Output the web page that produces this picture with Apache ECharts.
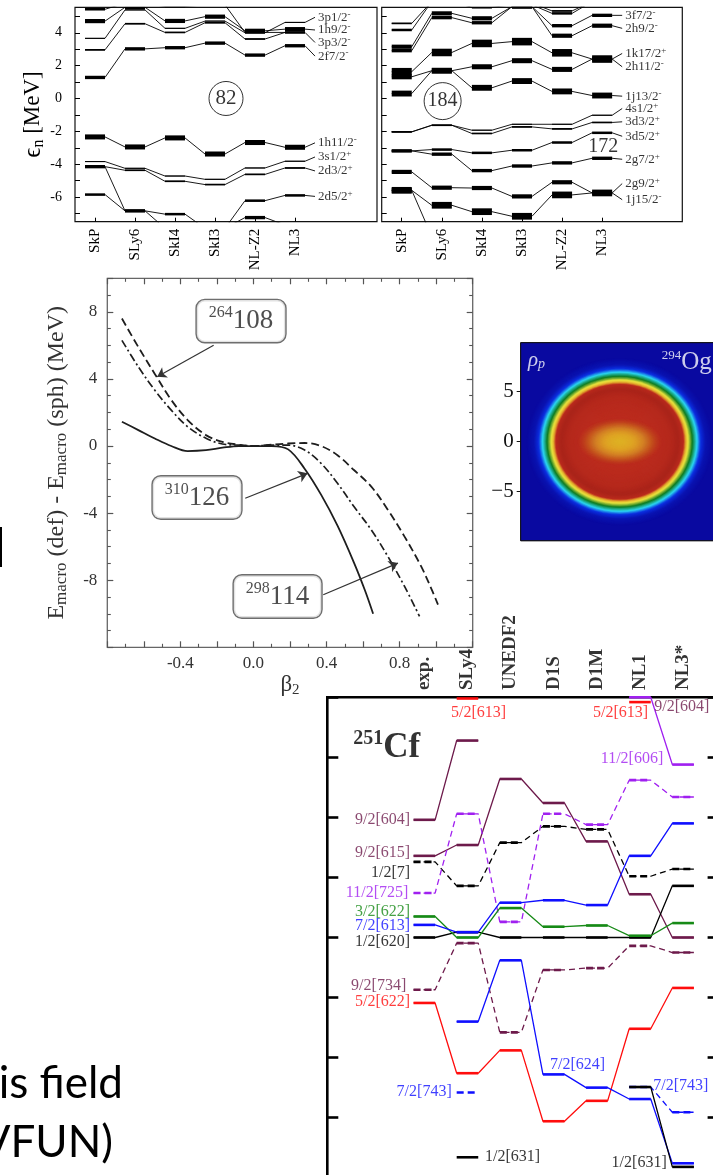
<!DOCTYPE html>
<html>
<head>
<meta charset="utf-8">
<script src="https://cdn.jsdelivr.net/npm/echarts@6/dist/echarts.min.js"></script>
<style>
  html, body { margin: 0; padding: 0; background: #fff; }
  #c { width: 713px; height: 1175px; }
</style>
</head>
<body>
<div id="c"></div>
<script>
// ---------------------------------------------------------------------------
// Neutron single-particle levels near N = 82 and N = 184 (MeV), per force
// ---------------------------------------------------------------------------
const forces = ['SkP', 'SLy6', 'SkI4', 'SkI3', 'NL-Z2', 'NL3'];

const n82_2f52  = [5.43, 5.80, 5.60, 5.70, 4.02, 4.02];
const n82_1h92  = [4.71, 5.55, 4.72, 4.98, 4.12, 4.22];
const n82_3p12  = [3.66, 5.39, 4.27, 4.71, 4.00, 4.63];
const n82_3p32  = [2.96, 4.55, 4.02, 4.61, 3.62, 4.02];
const n82_2f72  = [1.28, 3.02, 3.09, 3.37, 2.64, 3.21];
const n82_1h112 = [-2.34, -2.95, -2.40, -3.38, -2.68, -2.97];
const n82_3s12  = [-3.84, -4.25, -4.72, -4.92, -4.23, -3.82];
const n82_2d32  = [-4.15, -4.37, -5.04, -5.24, -4.62, -4.23];
const n82_2d52  = [-5.85, -6.84, -7.04, -7.90, -6.22, -5.90];
const n82_1g72  = [-4.15, -6.84, -7.90, -7.90, -7.25, -7.70];

const n184_3p32  = [4.57, 5.90, 5.70, 5.80, 5.33, 5.90];
const n184_3f52  = [4.17, 5.90, 5.55, 5.70, 5.18, 5.90];
const n184_2h92  = [3.15, 5.18, 4.88, 5.59, 3.82, 4.43];
const n184_3f72  = [2.91, 4.92, 4.61, 5.59, 4.43, 5.06];
const n184_1k172 = [1.63, 2.80, 3.35, 3.46, 2.78, 2.40];
const n184_2h112 = [1.32, 1.69, 1.93, 2.30, 1.77, 2.40];
const n184_1j132 = [0.30, 1.69, 0.65, 1.06, 0.43, 0.18];
const n184_4s12  = [-2.03, -1.63, -1.93, -1.57, -1.57, -1.02];
const n184_3d32  = [-2.03, -1.63, -2.13, -1.73, -1.85, -1.46];
const n184_3d52  = [-3.19, -3.11, -3.31, -3.15, -2.68, -2.09];
const n184_2g72  = [-3.19, -3.39, -4.39, -4.11, -3.92, -3.64];
const n184_2g92  = [-4.47, -5.43, -5.45, -5.96, -5.10, -5.75];
const n184_1j152 = [-5.59, -6.50, -6.89, -7.17, -5.87, -5.75];
const n184_1i112 = [-5.59, -8.40, -8.40, -8.40, -8.40, -8.40];

const n82Orbitals = [
  ['2f5/2', n82_2f52], ['1h9/2', n82_1h92], ['3p1/2', n82_3p12], ['3p3/2', n82_3p32],
  ['2f7/2', n82_2f72], ['1h11/2', n82_1h112], ['3s1/2', n82_3s12], ['2d3/2', n82_2d32],
  ['2d5/2', n82_2d52], ['1g7/2', n82_1g72]
];
const n184Orbitals = [
  ['3p3/2', n184_3p32], ['3f5/2', n184_3f52], ['2h9/2', n184_2h92], ['3f7/2', n184_3f72],
  ['1k17/2', n184_1k172], ['2h11/2', n184_2h112], ['1j13/2', n184_1j132], ['4s1/2', n184_4s12],
  ['3d3/2', n184_3d32], ['3d5/2', n184_3d52], ['2g7/2', n184_2g72], ['2g9/2', n184_2g92],
  ['1j15/2', n184_1j152], ['1i11/2', n184_1i112]
];

// Orbital names written at the right edge: name, parity, energy where the name sits
const n82Tags = [
  ['3p1/2', '-', 4.94], ['1h9/2', '-', 4.17], ['3p3/2', '-', 3.41], ['2f7/2', '-', 2.58],
  ['1h11/2', '-', -2.70], ['3s1/2', '+', -3.56], ['2d3/2', '+', -4.41], ['2d5/2', '+', -5.96]
];
const n184Tags = [
  ['3f7/2', '-', 5.06], ['2h9/2', '-', 4.27], ['1k17/2', '+', 2.74], ['2h11/2', '-', 1.93],
  ['1j13/2', '-', 0.14], ['4s1/2', '+', -0.61], ['3d3/2', '+', -1.42], ['3d5/2', '+', -2.30],
  ['2g7/2', '+', -3.70], ['2g9/2', '+', -5.18], ['1j15/2', '-', -6.16]
];

// ---------------------------------------------------------------------------
// Macroscopic deformation energy vs. beta2
// ---------------------------------------------------------------------------
const nuclei = [['264', '108'], ['310', '126'], ['298', '114']];
const beta108 = [-0.72, -0.63, -0.54, -0.45, -0.36, -0.26, -0.17, -0.08, 0.0, 0.10, 0.19, 0.28, 0.37, 0.46, 0.55, 0.645, 0.736, 0.827, 0.918, 0.98, 1.01];
const emac108 = [7.60, 5.90, 4.30, 2.75, 1.55, 0.65, 0.25, 0.08, 0.0, 0.08, 0.15, 0.18, 0.0, -0.55, -1.43, -2.42, -3.81, -5.40, -7.18, -8.67, -9.46];
const beta126 = [-0.72, -0.63, -0.54, -0.45, -0.36, -0.26, -0.17, -0.08, 0.0, 0.10, 0.19, 0.28, 0.37, 0.46, 0.55, 0.61, 0.655];
const emac126 = [1.45, 0.95, 0.45, 0.0, -0.30, -0.25, -0.10, 0.0, 0.0, 0.0, -0.20, -1.35, -2.90, -4.75, -6.95, -8.60, -10.0];
const beta114 = [-0.72, -0.63, -0.54, -0.45, -0.36, -0.26, -0.17, -0.08, 0.0, 0.10, 0.19, 0.28, 0.37, 0.46, 0.55, 0.645, 0.736, 0.827, 0.909];
const emac114 = [6.30, 4.72, 3.33, 2.14, 1.15, 0.46, 0.12, 0.05, 0.0, 0.05, 0.05, -0.24, -1.03, -2.22, -3.61, -5.00, -6.59, -8.37, -10.16];

// where each nucleus name box sits, and where its arrow starts / ends (beta2, MeV)
const nucleusBoxAt = [[-0.068, 7.45], [-0.309, -3.07], [0.132, -8.97]];
const nucleusArrow = [
  [[-0.218, 6.01], [-0.527, 4.13]],
  [[-0.045, -3.11], [0.296, -1.63]],
  [[0.382, -8.87], [0.791, -6.98]]
];

// ---------------------------------------------------------------------------
// Proton density of 294Og in the (x, z) plane (fm): radial profile along the
// long axis and its level on the colour scale (0 = outside, 1 = maximum)
// ---------------------------------------------------------------------------
const rhoRadius = [0, 2.0, 3.5, 5.0, 5.9, 6.4, 6.85, 7.3, 7.75, 8.15, 8.6, 9.3];
const rhoLevel  = [0.86, 0.86, 0.87, 0.89, 0.94, 0.88, 0.58, 0.43, 0.29, 0.14, 0.04, 0.0];
const rhoAspect = 0.9;
const bubbleRadius = [0, 1.2, 2.4, 3.3, 4.2];
const bubbleLevel  = [0.66, 0.67, 0.70, 0.76, 0.84];
const bubbleAspect = 0.56;
const rhoPalette = ['#0909a0', '#0b2ee0', '#2cd8f2', '#0d7c22', '#ece43e', '#e3aa2c', '#bd2c1e', '#9c1d16'];

// ---------------------------------------------------------------------------
// 251Cf one-quasiparticle energies (MeV), per model; null = not shown
// ---------------------------------------------------------------------------
const cfModels = ['exp.', 'SLy4', 'UNEDF2', 'D1S', 'D1M', 'NL1', 'NL3*'];
const cf_9_2_604  = [0.98, 1.64, null, null, null, null, null];
const cf_9_2_615  = [0.68, 0.77, 1.32, 1.12, 0.80, 0.36, 0.00];
const cf_1_2_761  = [0.63, 0.43, 0.79, 0.925, 0.90, 0.51, 0.57];
const cf_11_2_725 = [0.37, 1.03, 0.13, 1.03, 0.94, 1.31, 1.17];
const cf_11_2_606 = [null, null, null, null, null, 2.00, 1.44];
const cf_5_2_613  = [null, 1.99, null, null, null, 1.96, null];
const cf_1_2_620  = [0.00, 0.044, 0.00, 0.00, 0.00, 0.00, 0.43];
const cf_3_2_622  = [0.175, 0.00, 0.245, 0.09, 0.10, 0.015, 0.12];
const cf_7_2_613  = [0.105, 0.044, 0.29, 0.31, 0.27, 0.68, 0.95];
const cf_9_2_734  = [-0.435, -0.047, -0.79, -0.27, -0.255, -0.07, -0.125];
const cf_5_2_622  = [-0.545, -1.13, -0.94, -1.53, -1.36, -0.76, -0.42];
const cf_7_2_624  = [null, -0.70, -0.19, -1.14, -1.25, -1.345, -1.88];
const cf_7_2_743  = [null, -1.29, null, null, null, -1.245, -1.455];
const cf_1_2_631  = [null, -1.83, null, null, null, -1.245, -1.91];

const cfInk = { maroon: '#6d1a4b', purple: '#a020f0', green: '#168a16', blue: '#0f0fff', red: '#ff0d0d', black: '#000000' };
// name, energies, ink, dashed
const cfOrbitals = [
  ['9/2[604]', cf_9_2_604, 'maroon', false],
  ['9/2[615]', cf_9_2_615, 'maroon', false],
  ['1/2[761]', cf_1_2_761, 'black', true],
  ['11/2[725]', cf_11_2_725, 'purple', true],
  ['11/2[606]', cf_11_2_606, 'purple', false],
  ['5/2[613]', cf_5_2_613, 'red', false],
  ['9/2[734]', cf_9_2_734, 'maroon', true],
  ['1/2[620]', cf_1_2_620, 'black', false],
  ['3/2[622]', cf_3_2_622, 'green', false],
  ['7/2[613]', cf_7_2_613, 'blue', false],
  ['5/2[622]', cf_5_2_622, 'red', false],
  ['7/2[624]', cf_7_2_624, 'blue', false],
  ['7/2[743]', cf_7_2_743, 'blue', true],
  ['1/2[631]', cf_1_2_631, 'black', false]
];
// text, column position, energy, ink, which side of the anchor the text runs
const cfTags = [
  ['9/2[604]', -0.33, 0.98, 'maroon', 'end'],
  ['9/2[615]', -0.33, 0.705, 'maroon', 'end'],
  ['1/2[7]', -0.33, 0.535, 'black', 'end'],
  ['11/2[725]', -0.37, 0.37, 'purple', 'end'],
  ['3/2[622]', -0.33, 0.217, 'green', 'end'],
  ['7/2[613]', -0.33, 0.098, 'blue', 'end'],
  ['1/2[620]', -0.33, -0.033, 'black', 'end'],
  ['9/2[734]', -0.42, -0.40, 'maroon', 'end'],
  ['5/2[622]', -0.33, -0.533, 'red', 'end'],
  ['7/2[743]', 0.635, -1.288, 'blue', 'end'],
  ['5/2[613]', 1.257, 1.875, 'red', 'mid'],
  ['5/2[613]', 5.19, 1.875, 'red', 'end'],
  ['9/2[604]', 5.33, 1.92, 'maroon', 'start'],
  ['11/2[606]', 5.54, 1.489, 'purple', 'end'],
  ['7/2[624]', 2.914, -1.061, 'blue', 'start'],
  ['7/2[743]', 5.31, -1.233, 'blue', 'start'],
  ['1/2[631]', 1.407, -1.83, 'black', 'start'],
  ['1/2[631]', 5.62, -1.88, 'black', 'end']
];

// ---------------------------------------------------------------------------
const SERIF = '"Liberation Serif", "DejaVu Serif", serif';
const HALF = 0.25;      // half width of a level, in column units
const TAG_X = 5.5;      // where the connector to an orbital name ends
const CF_HEAD_E = 2.06; // column headings start just above the top edge of the 251Cf frame

// axis indices of the five panels
const AX_N82 = 0, AX_N184 = 1, AX_MAC = 2, AX_RHO = 4, AX_CF = 5;

function degeneracy(name) {
  const m = name.match(/^\d+[a-z](\d+)\/2/);
  return m ? Number(m[1]) + 1 : 2;
}

function renderBar(params, api) {
  const i = api.value(0), e = api.value(1), deg = api.value(2);
  const a = api.coord([i - HALF, e]);
  const b = api.coord([i + HALF, e]);
  const h = Math.max(1, 0.42 * deg);
  const cs = params.coordSys;
  const shape = echarts.graphic.clipRectByRect(
    { x: a[0], y: a[1] - h / 2, width: b[0] - a[0], height: h },
    { x: cs.x, y: cs.y, width: cs.width, height: cs.height }
  );
  return shape ? { type: 'rect', shape: shape, style: { fill: '#000' } } : null;
}

function tagRich(size, color) {
  return {
    t: { fontFamily: SERIF, fontSize: size, lineHeight: size + 2, color: color },
    s: { fontFamily: SERIF, fontSize: Math.round(size * 0.7), lineHeight: Math.round(size * 0.6), verticalAlign: 'top', color: color }
  };
}

function levelScheme(orbitals, tags, ax) {
  const out = [];
  const bars = [];
  orbitals.forEach(([name, energies]) => {
    const deg = degeneracy(name);
    const path = [];
    energies.forEach((e, i) => {
      path.push([i - HALF, e], [i + HALF, e]);
      bars.push([i, e, deg]);
    });
    const tag = tags.find(t => t[0] === name);
    if (tag) path.push([TAG_X, tag[2]]);
    out.push({
      type: 'line', name: name, xAxisIndex: ax, yAxisIndex: ax, data: path, symbol: 'none',
      silent: true, clip: true, lineStyle: { color: '#000', width: 0.9 }, z: 2
    });
  });
  out.push({ type: 'custom', xAxisIndex: ax, yAxisIndex: ax, data: bars, renderItem: renderBar, silent: true, z: 3 });
  out.push({
    type: 'scatter', xAxisIndex: ax, yAxisIndex: ax, symbolSize: 0, silent: true, z: 4,
    data: tags.map(t => ({ value: [TAG_X, t[2]], tag: t[0], parity: t[1] })),
    label: {
      show: true, position: 'right', distance: 3,
      formatter: p => `{t|${p.data.tag}}{s|${p.data.parity}}`,
      rich: tagRich(13, '#000')
    }
  });
  return out;
}

// colour of a density level on the jet-like scale
function densityColor(level) {
  return echarts.color.lerp(Math.max(0, Math.min(1, level)), rhoPalette);
}
// level at radius r along a piecewise profile
function profileAt(radii, levels, r) {
  if (r <= radii[0]) return levels[0];
  for (let k = 1; k < radii.length; k++) {
    if (r <= radii[k]) {
      const f = (r - radii[k - 1]) / (radii[k] - radii[k - 1]);
      return levels[k - 1] + f * (levels[k] - levels[k - 1]);
    }
  }
  return levels[levels.length - 1];
}

function renderDensity(params, api) {
  const cs = params.coordSys;
  const c = api.coord([0, 0]);
  const unit = Math.abs(api.coord([1, 0])[0] - c[0]);
  const children = [
    { type: 'rect', shape: { x: cs.x, y: cs.y, width: cs.width, height: cs.height }, style: { fill: densityColor(0) } }
  ];
  const step = 0.08;
  const R = rhoRadius[rhoRadius.length - 1];
  for (let r = R; r > 0; r -= step) {
    children.push({
      type: 'ellipse',
      shape: { cx: c[0], cy: c[1], rx: r * unit, ry: r * unit * rhoAspect },
      style: { fill: densityColor(profileAt(rhoRadius, rhoLevel, r)) }
    });
  }
  const Rb = bubbleRadius[bubbleRadius.length - 1];
  for (let r = Rb; r > 0; r -= step) {
    children.push({
      type: 'ellipse',
      shape: { cx: c[0], cy: c[1], rx: r * unit, ry: r * unit * bubbleAspect },
      style: { fill: densityColor(profileAt(bubbleRadius, bubbleLevel, r)), opacity: 0.085 }
    });
  }
  children.push({ type: 'rect', shape: { x: cs.x, y: cs.y, width: cs.width, height: cs.height }, style: { fill: null, stroke: '#111', lineWidth: 1 } });
  return { type: 'group', children: children };
}

// ---------------------------------------------------------------------------
const series = [];

// N = 82 and N = 184 level schemes
series.push(...levelScheme(n82Orbitals, n82Tags, AX_N82));
series.push(...levelScheme(n184Orbitals, n184Tags, AX_N184));

series.push({
  type: 'scatter', xAxisIndex: AX_N82, yAxisIndex: AX_N82, silent: true, z: 5,
  data: [[3.275, 0]], symbol: 'circle', symbolSize: 34,
  itemStyle: { color: 'rgba(255,255,255,0)', borderColor: '#000', borderWidth: 1 },
  label: { show: true, position: 'inside', formatter: '82', fontFamily: SERIF, fontSize: 21, color: '#000' }
});
series.push({
  type: 'scatter', xAxisIndex: AX_N184, yAxisIndex: AX_N184, silent: true, z: 5,
  data: [[1.02, -0.16]], symbol: 'circle', symbolSize: 37,
  itemStyle: { color: 'rgba(255,255,255,0)', borderColor: '#000', borderWidth: 1 },
  label: { show: true, position: 'inside', formatter: '184', fontFamily: SERIF, fontSize: 20, color: '#000' }
});
series.push({
  type: 'scatter', xAxisIndex: AX_N184, yAxisIndex: AX_N184, silent: true, z: 5,
  data: [[5.03, -2.91]], symbolSize: 0,
  label: { show: true, position: 'inside', formatter: '172', fontFamily: SERIF, fontSize: 20, color: '#000' }
});

// Macroscopic energy curves
const zip = (xs, ys) => xs.map((x, k) => [x, ys[k]]);
const curveInk = '#1e1e1e';
series.push({
  type: 'line', name: '264108', xAxisIndex: AX_MAC, yAxisIndex: AX_MAC, data: zip(beta108, emac108),
  symbol: 'none', smooth: 0.35, silent: true,
  lineStyle: { color: curveInk, width: 1.8, type: [8, 4] }
});
series.push({
  type: 'line', name: '310126', xAxisIndex: AX_MAC, yAxisIndex: AX_MAC, data: zip(beta126, emac126),
  symbol: 'none', smooth: 0.35, silent: true,
  lineStyle: { color: curveInk, width: 1.8 }
});
series.push({
  type: 'line', name: '298114', xAxisIndex: AX_MAC, yAxisIndex: AX_MAC, data: zip(beta114, emac114),
  symbol: 'none', smooth: 0.35, silent: true,
  lineStyle: { color: curveInk, width: 1.7, type: [8, 3, 2, 3] }
});
series.push({
  type: 'scatter', xAxisIndex: AX_MAC, yAxisIndex: AX_MAC, symbolSize: 0, silent: true, z: 6,
  data: nuclei.map((n, k) => ({ value: nucleusBoxAt[k], mass: n[0], charge: n[1] })),
  label: {
    show: true, position: 'inside',
    backgroundColor: '#fff', borderColor: '#4a4a4a', borderWidth: 1.4, borderRadius: 8,
    padding: [5, 12, 5, 12],
    formatter: p => `{s|${p.data.mass}}{m|${p.data.charge}}`,
    rich: {
      s: { fontFamily: SERIF, fontSize: 16, lineHeight: 14, verticalAlign: 'top', color: '#222' },
      m: { fontFamily: SERIF, fontSize: 27, lineHeight: 32, color: '#222' }
    }
  },
  markLine: {
    silent: true, animation: false, symbol: ['none', 'arrow'], symbolSize: 9,
    label: { show: false },
    lineStyle: { color: '#333', width: 1.2, type: 'solid' },
    data: nucleusArrow.map(a => [{ coord: a[0] }, { coord: a[1] }])
  }
});

// Proton density map
series.push({
  type: 'custom', xAxisIndex: AX_RHO, yAxisIndex: AX_RHO, data: [[0, 0]], renderItem: renderDensity, silent: true, z: 1
});
series.push({
  type: 'scatter', xAxisIndex: AX_RHO, yAxisIndex: AX_RHO, symbolSize: 0, silent: true, z: 5,
  data: [
    { value: [-9.17, 8.17], label: { formatter: '{r|ρ}{p|p}' } },
    { value: [4.2, 7.97], label: { formatter: '{s|294}{m|Og}' } }
  ],
  label: {
    show: true, position: 'right', distance: 0,
    rich: {
      r: { fontFamily: SERIF, fontStyle: 'italic', fontSize: 21, lineHeight: 22, color: '#fff' },
      p: { fontFamily: SERIF, fontStyle: 'italic', fontSize: 14, lineHeight: 12, verticalAlign: 'bottom', color: '#fff' },
      s: { fontFamily: SERIF, fontSize: 13, lineHeight: 12, verticalAlign: 'top', color: '#fff' },
      m: { fontFamily: SERIF, fontSize: 25, lineHeight: 26, color: '#fff' }
    }
  }
});

// 251Cf levels
const cfBars = [];
cfOrbitals.forEach(([name, energies, ink, dashed], k) => {
  let run = [];
  const flush = () => {
    if (run.length > 1) {
      const path = [];
      run.forEach(([i, e]) => path.push([i - HALF, e], [i + HALF, e]));
      series.push({
        type: 'line', name: name, xAxisIndex: AX_CF, yAxisIndex: AX_CF, data: path, symbol: 'none',
        silent: true, z: 2,
        lineStyle: { color: cfInk[ink], width: 1.3, type: dashed ? [6, 4] : 'solid' }
      });
    }
    run = [];
  };
  energies.forEach((e, i) => {
    if (e === null) { flush(); return; }
    run.push([i, e]);
    cfBars.push([i, e, k]);
  });
  flush();
});
series.push({
  type: 'custom', xAxisIndex: AX_CF, yAxisIndex: AX_CF, data: cfBars, silent: true, z: 3,
  renderItem: (params, api) => {
    const i = api.value(0), e = api.value(1), k = api.value(2);
    const orb = cfOrbitals[k];
    const a = api.coord([i - HALF, e]);
    const b = api.coord([i + HALF, e]);
    return {
      type: 'line', shape: { x1: a[0], y1: a[1], x2: b[0], y2: b[1] },
      style: { stroke: cfInk[orb[2]], lineWidth: 2.6, lineDash: orb[3] ? [7, 4] : null }
    };
  }
});
const sideToPos = { end: 'left', start: 'right', mid: 'inside' };
series.push({
  type: 'scatter', xAxisIndex: AX_CF, yAxisIndex: AX_CF, symbolSize: 0, silent: true, z: 5,
  data: cfTags.map(t => ({
    value: [t[1], t[2]],
    label: { show: true, formatter: t[0], color: cfInk[t[3]], position: sideToPos[t[4]], distance: 0 }
  })),
  label: { show: true, fontFamily: SERIF, fontSize: 16 }
});
series.push({
  type: 'scatter', xAxisIndex: AX_CF, yAxisIndex: AX_CF, symbolSize: 0, silent: true, z: 5,
  data: [[-1.65, 1.58]],
  label: {
    show: true, position: 'right', distance: 0, formatter: '{s|251}{m|Cf}',
    rich: {
      s: { fontFamily: SERIF, fontWeight: 'bold', fontSize: 20, lineHeight: 18, verticalAlign: 'top', color: '#000' },
      m: { fontFamily: SERIF, fontWeight: 'bold', fontSize: 35, lineHeight: 38, color: '#000' }
    }
  }
});
// column headings of the 251Cf panel, written upwards from the top edge
series.push({
  type: 'scatter', xAxisIndex: AX_CF, yAxisIndex: AX_CF, symbolSize: 0, silent: true, z: 5, clip: false,
  data: cfModels.map((m, i) => ({ value: [i, CF_HEAD_E], model: m })),
  label: {
    show: true, position: [0, 0], rotate: 90, align: 'left', verticalAlign: 'middle',
    formatter: p => p.data.model,
    fontFamily: SERIF, fontWeight: 'bold', fontSize: 19, color: '#000'
  }
});

// ---------------------------------------------------------------------------
const frame = (c, w) => ({ show: true, borderColor: c, borderWidth: w, backgroundColor: 'rgba(0,0,0,0)', outerBoundsMode: 'none', containLabel: false });
const noLine = { show: false, onZero: false };
const intTicks = [-7, -6, -5, -4, -3, -2, -1, 0, 1, 2, 3, 4, 5];
const cols6 = [0, 1, 2, 3, 4, 5];
const serifLabel = (size, extra) => Object.assign({ fontFamily: SERIF, fontSize: size, color: '#000' }, extra || {});
const macTick = { inside: true, length: 6, lineStyle: { color: '#555', width: 1.2 } };

const option = {
  animation: false,
  backgroundColor: '#ffffff',
  grid: [
    Object.assign({ left: 75, top: 7.3, width: 302, height: 214.4 }, frame('#111', 1.2)),
    Object.assign({ left: 381.7, top: 7.3, width: 300.6, height: 214.4 }, frame('#111', 1.2)),
    Object.assign({ left: 107.3, top: 278.3, width: 365.4, height: 369 }, frame('#666', 1.3)),
    Object.assign({ left: 520.7, top: 342.7, width: 198, height: 198 }, frame('#111', 1)),
    Object.assign({ left: 327.3, top: 697.3, width: 390.3, height: 480.4 }, frame('#000', 2.6))
  ],
  xAxis: [
    {
      gridIndex: 0, type: 'value', min: -0.5, max: 7.05,
      axisLine: noLine, splitLine: { show: false },
      axisTick: { customValues: cols6, inside: true, length: 4, lineStyle: { color: '#000' } },
      axisLabel: serifLabel(15, { customValues: cols6, formatter: v => forces[v], rotate: 90, margin: 7 })
    },
    {
      gridIndex: 1, type: 'value', min: -0.5, max: 7.0,
      axisLine: noLine, splitLine: { show: false },
      axisTick: { customValues: cols6, inside: true, length: 4, lineStyle: { color: '#000' } },
      axisLabel: serifLabel(15, { customValues: cols6, formatter: v => forces[v], rotate: 90, margin: 7 })
    },
    {
      gridIndex: 2, type: 'value', min: -0.8, max: 1.2, interval: 0.2,
      axisLine: noLine, splitLine: { show: false },
      axisTick: macTick,
      minorTick: { show: true, splitNumber: 2, length: 3.5, lineStyle: { color: '#555', width: 1.1 } },
      axisLabel: serifLabel(17, {
        color: '#333', margin: 8,
        formatter: v => { const k = Math.round(v * 10); return (k % 4 === 0 && k >= -4 && k <= 8) ? (k / 10).toFixed(1) : ''; }
      }),
      name: '{b|β}{s|2}', nameLocation: 'middle', nameGap: 24,
      nameTextStyle: {
        color: '#333',
        rich: {
          b: { fontFamily: SERIF, fontSize: 23, lineHeight: 26, color: '#333' },
          s: { fontFamily: SERIF, fontSize: 15, lineHeight: 12, verticalAlign: 'bottom', color: '#333' }
        }
      }
    },
    {
      gridIndex: 2, type: 'value', position: 'top', min: -0.8, max: 1.2, interval: 0.2,
      axisLine: noLine, splitLine: { show: false }, axisLabel: { show: false },
      axisTick: macTick,
      minorTick: { show: true, splitNumber: 2, length: 3.5, lineStyle: { color: '#555', width: 1.1 } }
    },
    { gridIndex: 3, type: 'value', min: -9.9, max: 9.9, show: false, axisLine: noLine },
    { gridIndex: 4, type: 'value', min: -2.25, max: 6.8, show: false, axisLine: noLine }
  ],
  yAxis: [
    {
      gridIndex: 0, type: 'value', min: -7.5, max: 5.55,
      axisLine: noLine, splitLine: { show: false },
      axisTick: { customValues: intTicks, inside: true, length: 5, lineStyle: { color: '#000' } },
      axisLabel: serifLabel(14, { customValues: [-6, -4, -2, 0, 2, 4], margin: 13 }),
      name: '{e|ϵ}{n|n}{t| [MeV]}', nameLocation: 'middle', nameGap: 25, nameRotate: 90,
      nameTextStyle: {
        color: '#000',
        rich: {
          e: { fontFamily: SERIF, fontSize: 25, lineHeight: 26, color: '#000' },
          n: { fontFamily: SERIF, fontSize: 16, lineHeight: 12, verticalAlign: 'bottom', color: '#000' },
          t: { fontFamily: SERIF, fontSize: 23, lineHeight: 26, color: '#000' }
        }
      }
    },
    {
      gridIndex: 1, type: 'value', min: -7.5, max: 5.55,
      axisLine: noLine, splitLine: { show: false }, axisLabel: { show: false },
      axisTick: { customValues: intTicks, inside: true, length: 5, lineStyle: { color: '#000' } }
    },
    {
      gridIndex: 2, type: 'value', min: -12, max: 10, interval: 4,
      axisLine: noLine, splitLine: { show: false },
      axisTick: macTick,
      minorTick: { show: true, splitNumber: 4, length: 3.5, lineStyle: { color: '#555', width: 1.1 } },
      axisLabel: serifLabel(17, { color: '#333', margin: 10, formatter: v => (Math.abs(v) <= 8 ? String(v) : '') }),
      name: '{t|E}{s|macro}{t| (def) - E}{s|macro}{t| (sph) (MeV)}', nameLocation: 'middle', nameGap: 37, nameRotate: 90,
      nameTextStyle: {
        color: '#333',
        rich: {
          t: { fontFamily: SERIF, fontSize: 24, lineHeight: 28, color: '#333' },
          s: { fontFamily: SERIF, fontSize: 17, lineHeight: 12, verticalAlign: 'bottom', color: '#333' }
        }
      }
    },
    {
      gridIndex: 2, type: 'value', position: 'right', min: -12, max: 10, interval: 4,
      axisLine: noLine, splitLine: { show: false }, axisLabel: { show: false },
      axisTick: macTick,
      minorTick: { show: true, splitNumber: 4, length: 3.5, lineStyle: { color: '#555', width: 1.1 } }
    },
    {
      gridIndex: 3, type: 'value', min: -9.9, max: 9.9,
      axisLine: noLine, splitLine: { show: false },
      axisTick: { customValues: [-5, 0, 5], length: 4, lineStyle: { color: '#111' } },
      axisLabel: serifLabel(21, { customValues: [-5, 0, 5], margin: 7, color: '#111', formatter: v => (v < 0 ? '\u2212' + (-v) : String(v)) })
    },
    {
      gridIndex: 4, type: 'value', min: -2, max: 2, interval: 0.5,
      axisLine: noLine, splitLine: { show: false }, axisLabel: { show: false },
      axisTick: { inside: true, length: 11, lineStyle: { color: '#000', width: 2.6 } }
    },
    {
      gridIndex: 4, type: 'value', position: 'right', min: -2, max: 2, interval: 0.5,
      axisLine: noLine, splitLine: { show: false }, axisLabel: { show: false },
      axisTick: { inside: true, length: 10, lineStyle: { color: '#000', width: 2.6 } }
    }
  ],
  graphic: [
    { type: 'line', shape: { x1: 1, y1: 527, x2: 1, y2: 567 }, style: { stroke: '#000', lineWidth: 2 }, silent: true },
    { type: 'text', x: 123, y: 1084, silent: true, style: { text: 'is field', font: '44px Lato, "Open Sans", sans-serif', fill: '#000', align: 'right', verticalAlign: 'middle' } },
    { type: 'text', x: 113, y: 1143, silent: true, style: { text: 'VFUN)', font: '44px Lato, "Open Sans", sans-serif', fill: '#000', align: 'right', verticalAlign: 'middle' } }
  ],
  series: series
};

const chart = echarts.init(document.getElementById('c'), null, { renderer: 'canvas', width: 713, height: 1175, devicePixelRatio: 1 });
chart.setOption(option);
</script>
</body>
</html>
